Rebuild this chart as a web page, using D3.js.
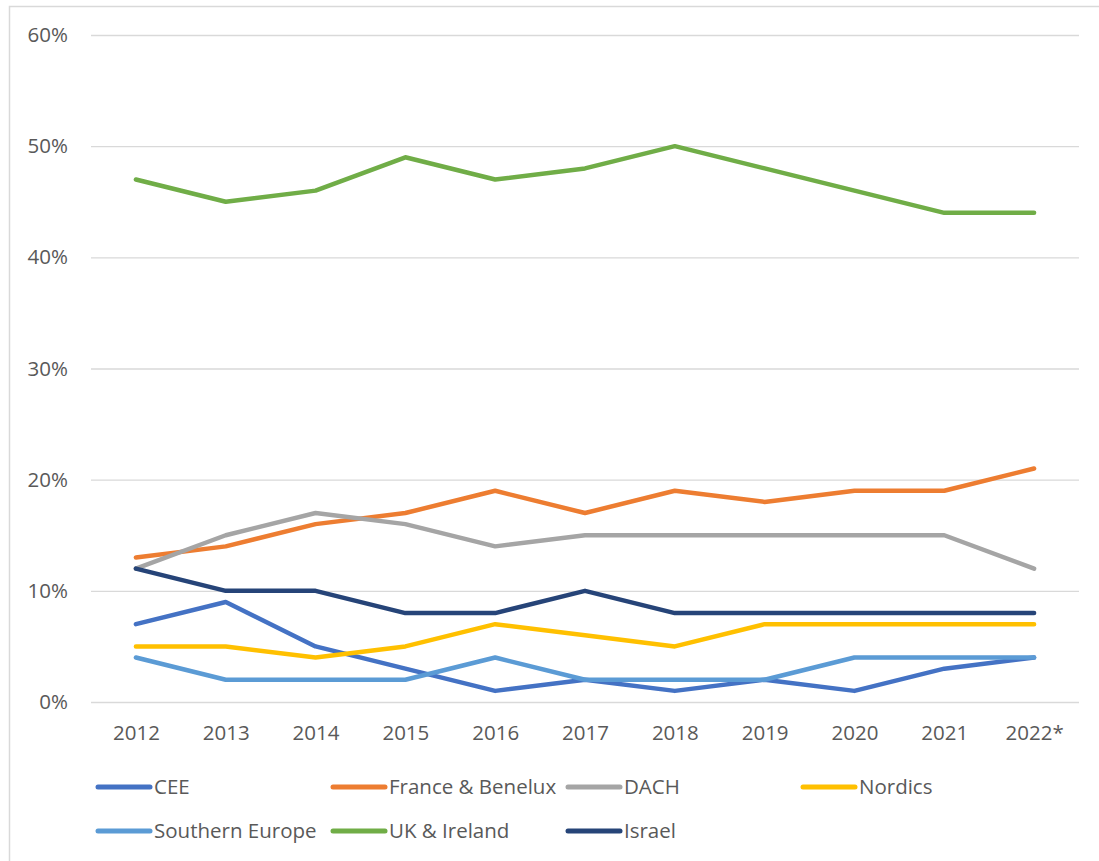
<!DOCTYPE html>
<html><head><meta charset="utf-8">
<script src="https://cdn.jsdelivr.net/npm/d3@7"></script>
<style>body{margin:0;background:#fff}svg{display:block}text{font-family:"Open Sans","Noto Sans",sans-serif}</style>
</head><body>
<svg id="c" width="1099" height="861"></svg>
<script>
const categories = ["2012","2013","2014","2015","2016","2017","2018","2019","2020","2021","2022*"];
const seriesNames = ["CEE","France & Benelux","DACH","Nordics","Southern Europe","UK & Ireland","Israel"];
const colors = ["#4472C4","#ED7D31","#A5A5A5","#FFC000","#5B9BD5","#70AD47","#264478"];
const cee = [7,9,5,3,1,2,1,2,1,3,4];
const france = [13,14,16,17,19,17,19,18,19,19,21];
const dach = [12,15,17,16,14,15,15,15,15,15,12];
const nordics = [5,5,4,5,7,6,5,7,7,7,7];
const southern = [4,2,2,2,4,2,2,2,4,4,4];
const uk = [47,45,46,49,47,48,50,48,46,44,44];
const israel = [12,10,10,8,8,10,8,8,8,8,8];
const yTicks = [0,10,20,30,40,50,60];

(function(){
const values = [cee,france,dach,nordics,southern,uk,israel];
const svg = d3.select("#c");
const fs = "20.5px";
svg.append("rect").attr("x",9.5).attr("y",6.5).attr("width",1100).attr("height",870)
  .attr("fill","none").attr("stroke","#d9d9d9").attr("stroke-width",1.5);

const pl=91,pr=1079,pt=35,pb=702;
const x = d3.scalePoint().domain(categories).range([pl,pr]).padding(0.5);
const y = d3.scaleLinear().domain([0,60]).range([pb,pt]);

const gy = svg.append("g").attr("transform",`translate(${pl},0)`)
  .call(d3.axisLeft(y).tickValues(yTicks).tickSize(-(pr-pl)).tickFormat(d=>d+"%"));
gy.select(".domain").remove();
gy.selectAll(".tick line").attr("stroke","#d9d9d9").attr("stroke-width",1.3);
gy.selectAll(".tick text").attr("x",-23).attr("fill","#595959").style("font-size",fs).style("font-family","'Open Sans',sans-serif");

const gx = svg.append("g").attr("transform",`translate(0,${pb})`)
  .call(d3.axisBottom(x).tickSize(0));
gx.select(".domain").remove();
gx.selectAll(".tick text").attr("dy","0").attr("y",38).attr("fill","#595959").style("font-size",fs).style("font-family","'Open Sans',sans-serif");

const line = d3.line().x((d,i)=>x(categories[i])).y(d=>y(d));
values.forEach((v,k)=>{
  svg.append("path").datum(v).attr("d",line).attr("fill","none")
    .attr("stroke",colors[k]).attr("stroke-width",4.5)
    .attr("stroke-linejoin","round").attr("stroke-linecap","round");
});

const legX=[98,333,568,803], legY=[787,831];
seriesNames.forEach((n,k)=>{
  const lx=legX[k%4], ly=legY[Math.floor(k/4)];
  svg.append("line").attr("x1",lx).attr("x2",lx+52).attr("y1",ly).attr("y2",ly)
    .attr("stroke",colors[k]).attr("stroke-width",5).attr("stroke-linecap","round");
  svg.append("text").attr("x",lx+56).attr("y",ly).attr("dy","0.35em")
    .attr("fill","#595959").style("font-size",fs).text(n);
});
})();
</script>
</body></html>
